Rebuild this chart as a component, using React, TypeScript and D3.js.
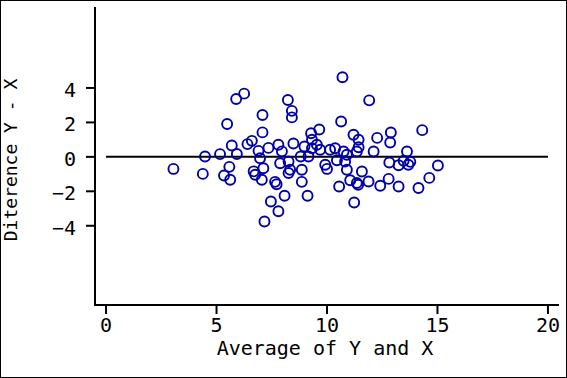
import React from "react";
import * as d3 from "d3";

const avgValues: number[] = [
  3.05, 4.38, 4.48, 5.16, 5.92, 5.58, 5.34, 5.62, 5.48, 5.89,
  6.25, 5.69, 6.40, 6.60, 6.68, 6.75, 6.90, 6.97, 7.08, 7.08,
  7.12, 7.05, 7.17, 7.35, 7.46, 7.65, 7.72, 7.80, 7.80, 7.88,
  7.96, 8.08, 8.23, 8.41, 8.41, 8.26, 8.33, 8.26, 8.48, 8.81,
  8.86, 8.86, 8.98, 9.12, 9.16, 9.28, 9.32, 9.32, 9.54, 9.65,
  9.69, 9.92, 10.0, 10.14, 10.37, 10.45, 10.55, 10.64, 10.70, 10.75,
  10.90, 10.82, 10.90, 11.05, 11.20, 11.23, 11.35, 11.41, 11.43, 11.43,
  11.35, 11.58, 11.88, 11.91, 12.11, 12.27, 12.41, 12.79, 12.82, 12.89,
  12.86, 13.24, 13.24, 13.47, 13.62, 13.68, 13.77, 14.14, 14.31, 14.63,
  15.02,
];
const diffValues: number[] = [
  -0.70, -0.99, 0.02, 0.16, 0.17, -0.58, -1.08, -1.33, 1.91, 3.36,
  3.67, 0.66, 0.74, 0.93, -0.84, -1.04, 0.35, -0.08, 2.43, 1.42,
  -0.66, -1.33, -3.75, 0.52, -2.59, -1.45, -1.59, 0.70, -3.16, -0.37,
  0.32, -2.26, 3.30, 2.67, 2.29, -0.27, -0.75, -0.94, 0.78, 0.02,
  -0.75, -1.45, 0.60, -2.26, 0.02, 1.37, 0.99, 0.50, 0.70, 1.59,
  0.41, -0.46, -0.70, 0.41, 0.50, -0.20, -1.72, 2.05, 4.62, 0.31,
  0.12, -0.27, -0.75, -1.36, 1.28, -2.65, -1.52, -1.62, 0.99, 0.56,
  0.31, -0.85, -1.43, 3.28, 0.31, 1.10, -1.68, -1.28, -0.33, 1.41,
  0.83, -0.49, -1.72, -0.23, 0.31, -0.46, -0.29, -1.81, 1.55, -1.22,
  -0.50,
];
const xTicks: number[] = [0, 5, 10, 15, 20];
const yTicks: number[] = [-4, -2, 0, 2, 4];
const xLabel = "Average of Y and X";
const yLabel = "Diterence Y - X";

const W = 567;
const H = 378;
const FONT = "'DejaVu Sans Mono', 'Liberation Mono', monospace";
const BLUE = "#0000a8";

export default function App() {
  const x = d3.scaleLinear().domain([-0.5, 20.5]).range([95, 559]);
  const y = d3.scaleLinear().domain([-8.6, 8.7]).range([305, 7]);
  const pts = avgValues.map((a, i) => ({ a, d: diffValues[i] }));
  return (
    <svg
      width={W}
      height={H}
      style={{ position: "fixed", left: 0, top: 0, background: "#fff" }}
    >
      <rect x={0.5} y={0.5} width={W - 1} height={H - 1} fill="#fff" stroke="#000" strokeWidth={1} />
      {/* zero reference line */}
      <line x1={x(0)} x2={x(20)} y1={y(0)} y2={y(0)} stroke="#000" strokeWidth={2} />
      {/* axes */}
      <line x1={x.range()[0]} x2={x.range()[0]} y1={y.range()[1]} y2={y.range()[0] + 1} stroke="#000" strokeWidth={2} />
      <line x1={x.range()[0]} x2={x.range()[1]} y1={y.range()[0]} y2={y.range()[0]} stroke="#000" strokeWidth={2} />
      {yTicks.map((t) => (
        <g key={"y" + t}>
          <line x1={86} x2={95} y1={y(t)} y2={y(t)} stroke="#000" strokeWidth={2} />
          <text x={76} y={y(t) + 9} textAnchor="end" fontFamily={FONT} fontSize={20}>
            {t < 0 ? "\u2212" + Math.abs(t) : String(t)}
          </text>
        </g>
      ))}
      {xTicks.map((t) => (
        <g key={"x" + t}>
          <line x1={x(t)} x2={x(t)} y1={305} y2={314} stroke="#000" strokeWidth={2} />
          <text x={x(t)} y={332} textAnchor="middle" fontFamily={FONT} fontSize={20}>
            {String(t)}
          </text>
        </g>
      ))}
      <text x={325} y={355} textAnchor="middle" fontFamily={FONT} fontSize={20}>
        {xLabel}
      </text>
      <text
        transform={`translate(17, 160) rotate(-90)`}
        textAnchor="middle"
        fontFamily={FONT}
        fontSize={18}
      >
        {yLabel}
      </text>
      {pts.map((p, i) => (
        <circle
          key={i}
          cx={x(p.a)}
          cy={y(p.d)}
          r={5}
          fill="none"
          stroke={BLUE}
          strokeWidth={1.9}
        />
      ))}
    </svg>
  );
}
